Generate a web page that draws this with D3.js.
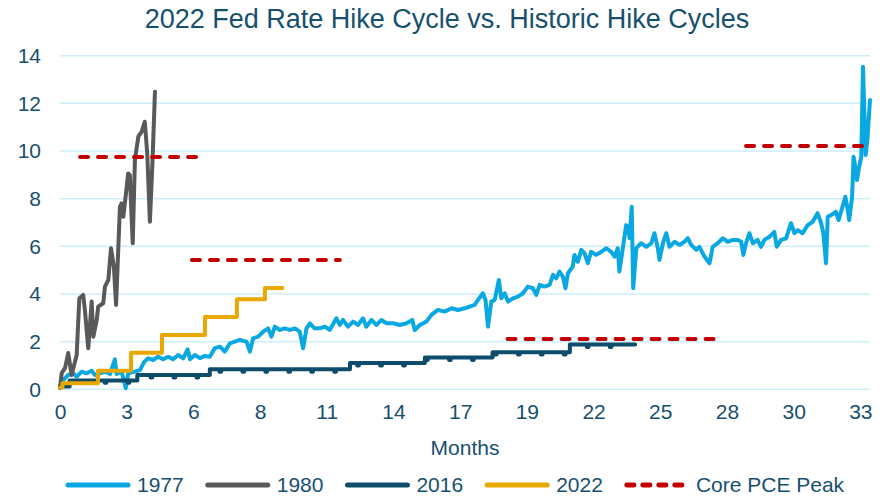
<!DOCTYPE html>
<html>
<head>
<meta charset="utf-8">
<script src="https://cdn.jsdelivr.net/npm/d3@7"></script>
<style>
body { margin: 0; background: #fff; }
text { font-family: "Liberation Sans", Arial, sans-serif; fill: #17506e; }
</style>
</head>
<body>
<div id="chart"></div>
<script>
// --- data (x = months into the hike cycle, y = rate %) ---
var months1977 = [0.07,0.34,0.55,0.69,0.90,1.10,1.31,1.45,1.65,1.86,2.07,2.27,2.34,2.55,2.72,2.82,3.10,3.31,3.49,3.65,3.86,4.06,4.27,4.48,4.68,4.89,5.10,5.28,5.38,5.58,5.79,6.00,6.20,6.41,6.62,6.82,7.03,7.24,7.44,7.72,7.86,7.99,8.20,8.41,8.61,8.75,8.89,9.10,9.30,9.51,9.72,9.92,10.06,10.20,10.34,10.54,10.75,10.96,11.16,11.44,11.58,11.71,11.92,12.13,12.33,12.54,12.68,12.89,13.10,13.30,13.51,13.78,14.06,14.34,14.58,14.68,14.89,15.16,15.37,15.64,15.92,16.20,16.47,16.75,16.95,17.16,17.30,17.50,17.61,17.71,17.85,17.99,18.16,18.26,18.40,18.54,18.74,18.95,19.16,19.36,19.57,19.71,19.85,20.05,20.26,20.40,20.54,20.67,20.81,20.92,21.02,21.22,21.29,21.43,21.57,21.71,21.84,21.98,22.19,22.40,22.61,22.81,22.95,23.08,23.15,23.29,23.43,23.50,23.57,23.66,23.72,23.85,24.05,24.26,24.47,24.60,24.74,24.81,24.95,25.09,25.22,25.43,25.64,25.84,25.98,26.12,26.33,26.46,26.67,26.88,27.01,27.22,27.43,27.63,27.84,28.05,28.19,28.28,28.39,28.53,28.67,28.87,29.01,29.15,29.36,29.56,29.66,29.84,30.05,30.25,30.39,30.53,30.73,30.94,31.15,31.35,31.50,31.59,31.70,31.77,31.91,32.11,32.22,32.36,32.50,32.59,32.66,32.78,32.84,32.91,32.98,33.06,33.16,33.23,33.28,33.34,33.41,33.52];
var rate1977 = [0.32,0.6,0.67,0.53,0.74,0.67,0.78,0.6,0.67,0.74,0.64,1.26,0.64,0.74,0.05,0.67,0.74,0.81,1.16,1.3,1.23,1.37,1.26,1.37,1.26,1.44,1.3,1.68,1.26,1.44,1.31,1.4,1.37,1.73,1.79,1.58,1.93,2.0,2.07,2.0,1.58,2.14,2.21,2.42,2.56,2.21,2.63,2.49,2.56,2.49,2.56,2.42,1.72,2.56,2.77,2.56,2.56,2.63,2.49,2.98,2.7,2.91,2.63,2.84,2.7,2.98,2.63,2.91,2.7,2.91,2.77,2.77,2.7,2.77,2.91,2.49,2.7,2.84,3.12,3.33,3.26,3.4,3.33,3.4,3.47,3.54,3.75,4.03,3.75,2.63,3.68,3.75,4.59,3.82,4.03,3.68,3.82,3.89,4.03,4.31,4.24,3.96,4.38,4.31,4.38,4.8,4.66,4.94,4.73,4.24,4.87,5.15,5.64,5.35,5.85,5.71,5.29,5.77,5.64,5.77,5.92,5.77,5.57,5.92,4.94,5.92,6.89,6.82,6.34,7.66,4.24,5.92,6.13,5.98,6.13,6.55,5.92,5.43,6.13,6.55,5.98,6.19,6.06,6.19,6.34,6.06,5.85,5.98,5.57,5.29,5.98,6.13,6.34,6.19,6.27,6.27,6.19,5.64,6.13,6.55,6.13,6.27,5.98,6.27,6.4,6.61,5.98,6.27,6.34,6.97,6.55,6.68,6.55,6.89,7.03,7.39,6.97,6.55,5.29,7.24,7.31,7.45,7.1,7.59,8.08,7.59,7.1,8.08,9.76,9.34,8.78,9.27,9.76,13.54,11.86,9.83,10.46,12.14];

var months1980 = [0,0.07,0.21,0.34,0.48,0.69,0.80,0.96,1.03,1.17,1.31,1.38,1.52,1.58,1.79,1.86,2.00,2.11,2.23,2.32,2.48,2.55,2.62,2.73,2.82,2.89,3.01,3.10,3.24,3.38,3.51,3.61,3.72,3.83,3.93];
var rate1980 = [0.05,0.68,0.9,1.52,0.6,1.44,3.82,3.96,3.33,1.72,3.68,2.21,2.91,3.47,3.61,4.31,4.59,5.92,5.15,3.54,7.66,7.8,7.24,8.22,9.06,8.99,6.13,9.62,10.6,10.81,11.23,9.9,7.03,9.62,12.49];

// 2016: step levels plus the small month-end dips
var months2016 = [0,0.4,3.2,6.2,12.0,15.1,17.9,21.1,23.8];
var rate2016 = [0.12,0.37,0.6,0.84,1.1,1.33,1.56,1.88,1.88];
var dips2016 = [0.9,1.85,2.8,3.75,4.7,5.65,6.6,7.55,8.5,9.45,10.4,11.35,12.3,13.25,14.2,15.15,16.1,17.05,18.0,18.95,19.9,20.85,21.8,22.75];

var months2022 = [0,0.1,1.57,2.94,4.22,6.0,7.32,8.48,9.2];
var rate2022 = [0.08,0.25,0.78,1.53,2.28,3.03,3.78,4.25,4.25];

var pceStart = [0.83,5.46,18.52,28.39];
var pceEnd = [5.79,11.58,27.12,33.33];
var pceValue = [9.75,5.43,2.11,10.21];

var yTicks = [0,2,4,6,8,10,12,14];
var xTicks = [0,2.76,5.52,8.28,11.04,13.8,16.56,19.32,22.08,24.84,27.6,30.36,33.12];

var seriesNames = ["1977","1980","2016","2022","Core PCE Peak"];
var seriesColors = ["#0aa8e2","#595959","#0d4d6b","#e9a800","#c00000"];

// --- chart ---
var width = 894, height = 497;
var margin = {top: 55.7, right: 24, bottom: 107.7, left: 60};

var svg = d3.select("#chart").append("svg")
  .attr("width", width).attr("height", height);

var x = d3.scaleLinear().domain([0, 33.52]).range([margin.left, width - margin.right]);
var y = d3.scaleLinear().domain([0, 14]).range([height - margin.bottom, margin.top]);

svg.append("text")
  .attr("x", 447).attr("y", 28)
  .attr("text-anchor", "middle")
  .style("font-size", "27px")
  .text("2022 Fed Rate Hike Cycle vs. Historic Hike Cycles");

// gridlines
svg.append("g").selectAll("line").data(yTicks).enter().append("line")
  .attr("x1", x(0)).attr("x2", x(33.52))
  .attr("y1", function(d) { return y(d); })
  .attr("y2", function(d) { return y(d); })
  .style("stroke", "#cdeefb").style("stroke-width", 1.5);

var yAxis = svg.append("g")
  .attr("transform", "translate(" + (margin.left - 19) + ",0)")
  .call(d3.axisLeft(y).tickValues(yTicks).tickSize(0).tickPadding(0));
yAxis.select(".domain").remove();
yAxis.selectAll("text").style("font-size", "21px").style("font-family", null).attr("fill", null);

var xAxis = svg.append("g")
  .attr("transform", "translate(0," + (height - margin.bottom) + ")")
  .call(d3.axisBottom(x).tickValues(xTicks).tickFormat(d3.format(".0f")).tickSize(0).tickPadding(15));
xAxis.select(".domain").remove();
xAxis.selectAll("text").style("font-size", "21px").style("font-family", null).attr("fill", null);

svg.append("text")
  .attr("x", 465).attr("y", 455)
  .attr("text-anchor", "middle")
  .style("font-size", "21px")
  .text("Months");

function pts(ms, vs) {
  return ms.map(function(m, i) { return [m, vs[i]]; });
}

var line = d3.line()
  .x(function(d) { return x(d[0]); })
  .y(function(d) { return y(d[1]); });
var stepLine = d3.line()
  .curve(d3.curveStepAfter)
  .x(function(d) { return x(d[0]); })
  .y(function(d) { return y(d[1]); });

function level2016(m) {
  var v = rate2016[0];
  for (var i = 0; i < months2016.length; i++) if (months2016[i] <= m) v = rate2016[i];
  return v;
}
var pts2016 = pts(months2016, rate2016);
dips2016.forEach(function(m) {
  var v = level2016(m);
  pts2016.push([m, v - 0.1]);
  pts2016.push([m + 0.07, v]);
});
pts2016.sort(function(a, b) { return a[0] - b[0]; });

var plot = svg.append("g")
  .style("fill", "none")
  .style("stroke-width", 4)
  .style("stroke-linejoin", "round")
  .style("stroke-linecap", "round");

plot.append("path").attr("d", line(pts(months1977, rate1977))).style("stroke", seriesColors[0]);
plot.append("path").attr("d", line(pts(months1980, rate1980))).style("stroke", seriesColors[1]);
plot.append("path").attr("d", stepLine(pts2016)).style("stroke", seriesColors[2]);
plot.append("path").attr("d", stepLine(pts(months2022, rate2022))).style("stroke", seriesColors[3]);

plot.selectAll(".pce").data(pceValue).enter().append("line")
  .attr("class", "pce")
  .attr("x1", function(d, i) { return x(pceStart[i]); })
  .attr("x2", function(d, i) { return x(pceEnd[i]); })
  .attr("y1", function(d) { return y(d); })
  .attr("y2", function(d) { return y(d); })
  .style("stroke", seriesColors[4])
  .style("stroke-width", 4)
  .style("stroke-dasharray", "8 10");

// legend
var legend = svg.append("g").attr("transform", "translate(0,485)");
var lx = 66;
seriesNames.forEach(function(name, i) {
  var l = legend.append("line")
    .attr("x1", lx + 2).attr("x2", lx + 62)
    .style("stroke", seriesColors[i])
    .style("stroke-width", 5)
    .style("stroke-linecap", "round");
  if (i == 4) l.style("stroke-dasharray", "7 9").attr("x2", lx + 64);
  var t = legend.append("text")
    .attr("x", lx + 71).attr("y", 7)
    .style("font-size", "21px")
    .text(name);
  lx = lx + 71 + t.node().getComputedTextLength() + 22;
});
</script>
</body>
</html>
